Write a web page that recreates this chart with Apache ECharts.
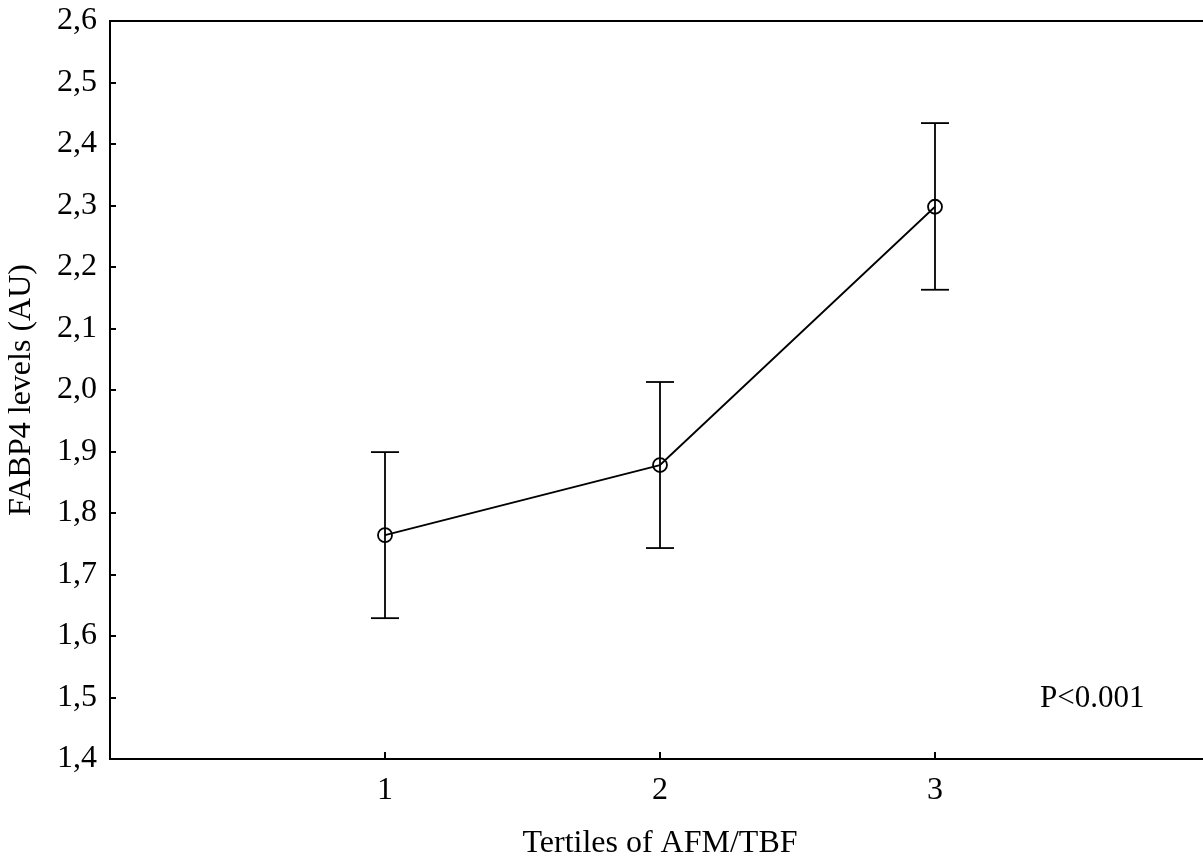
<!DOCTYPE html>
<html>
<head>
<meta charset="utf-8">
<script src="https://cdn.jsdelivr.net/npm/echarts@6/dist/echarts.min.js"></script>
<style>
  html, body { margin: 0; padding: 0; background: #fff; }
  #chart { width: 1203px; height: 865px; }
</style>
</head>
<body>
<div id="chart"></div>
<script>
// tertiles and FABP4 means with error bar ends
const tertiles = [1, 2, 3];
const means = [1.764, 1.878, 2.298];
const upper = [1.899, 2.013, 2.434];
const lower = [1.629, 1.743, 2.163];
const yTicks = [1.4, 1.5, 1.6, 1.7, 1.8, 1.9, 2.0, 2.1, 2.2, 2.3, 2.4, 2.5, 2.6];

const font = 'Liberation Serif';
const chart = echarts.init(document.getElementById('chart'));

const lineData = tertiles.map((t, i) => [t, means[i]]);
const errData = tertiles.map((t, i) => [t, lower[i], upper[i]]);

const option = {
  animation: false,
  backgroundColor: '#fff',
  grid: {
    left: 110,
    top: 21,
    bottom: 106,
    right: -7,
    outerBoundsMode: 'none',
    show: true,
    borderColor: '#000',
    borderWidth: 2
  },
  xAxis: {
    type: 'value',
    min: 0,
    max: 4,
    interval: 1,
    name: 'Tertiles of AFM/TBF',
    nameLocation: 'middle',
    nameGap: 69,
    nameTextStyle: { fontFamily: font, fontSize: 32, color: '#000' },
    axisLine: { show: true, lineStyle: { color: '#000', width: 2 } },
    // ticks at 0 sit on the y axis and 4 falls off the canvas
    axisTick: { show: true, inside: true, length: 7, lineStyle: { color: '#000', width: 2 } },
    axisLabel: {
      margin: 16,
      fontFamily: font, fontSize: 32, color: '#000',
      formatter: v => tertiles.includes(v) ? String(v) : ''
    },
    splitLine: { show: false }
  },
  yAxis: {
    type: 'value',
    min: 1.4,
    max: 2.6,
    interval: 0.1,
    name: 'FABP4 levels (AU)',
    nameLocation: 'middle',
    nameGap: 72,
    nameTextStyle: { fontFamily: font, fontSize: 32, color: '#000' },
    axisLine: { show: true, lineStyle: { color: '#000', width: 2 } },
    axisTick: { show: true, inside: true, length: 6, lineStyle: { color: '#000', width: 2 } },
    axisLabel: {
      margin: 13,
      fontFamily: font, fontSize: 32, color: '#000',
      formatter: v => yTicks.some(t => Math.abs(t - v) < 1e-6) ? v.toFixed(1).replace('.', ',') : ''
    },
    splitLine: { show: false }
  },
  series: [
    {
      type: 'custom',
      data: errData,
      z: 3,
      renderItem(params, api) {
        const x = api.value(0);
        const lo = api.coord([x, api.value(1)]);
        const hi = api.coord([x, api.value(2)]);
        const half = 14;
        const style = { stroke: '#000', lineWidth: 1.8 };
        return {
          type: 'group',
          children: [
            { type: 'line', shape: { x1: lo[0], y1: lo[1], x2: hi[0], y2: hi[1] }, style },
            { type: 'line', shape: { x1: hi[0] - half, y1: hi[1], x2: hi[0] + half, y2: hi[1] }, style },
            { type: 'line', shape: { x1: lo[0] - half, y1: lo[1], x2: lo[0] + half, y2: lo[1] }, style }
          ]
        };
      }
    },
    {
      type: 'line',
      data: lineData,
      z: 4,
      symbol: 'circle',
      symbolSize: 14,
      lineStyle: { color: '#000', width: 1.8 },
      itemStyle: { color: 'rgba(0,0,0,0)', borderColor: '#000', borderWidth: 1.8 }
    }
  ],
  graphic: [
    {
      type: 'text',
      left: 1040,
      top: 683,
      style: { text: 'P<0.001', font: '31px "Liberation Serif"', fill: '#000' }
    }
  ]
};

chart.setOption(option);
</script>
</body>
</html>
